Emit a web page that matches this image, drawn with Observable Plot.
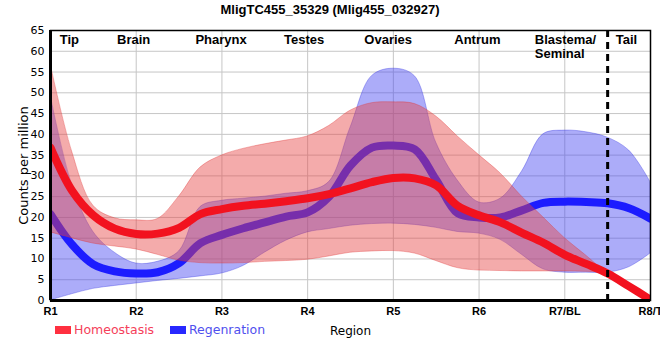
<!DOCTYPE html>
<html><head><meta charset="utf-8">
<script src="https://cdn.jsdelivr.net/npm/d3@7"></script>
<script src="https://cdn.jsdelivr.net/npm/@observablehq/plot@0.6"></script>
<style>
body{margin:0;background:#fff;}
#wrap{position:relative;width:660px;height:360px;overflow:hidden;font-family:"Liberation Sans",Arial,sans-serif;}
#title{height:20px;line-height:20px;text-align:center;font-weight:bold;font-size:13px;color:#000;}
#legend{position:absolute;top:322px;left:55px;font-family:"DejaVu Sans",Verdana,sans-serif;font-size:12.5px;}
.item{position:absolute;top:0;white-space:nowrap;line-height:16px;}
.sw{display:inline-block;width:16px;height:8px;margin-right:3px;vertical-align:middle;position:relative;top:-1px;}
svg g[aria-label="x-axis tick label"] text{font-weight:bold;}
</style></head>
<body>
<div id="wrap">
<div id="title">MligTC455_35329 (Mlig455_032927)</div>
<div id="chart"></div>
<div id="legend"></div>
</div>
<script>
const positions = [0,0.25,0.5,0.75,1,1.25,1.5,1.75,2,2.25,2.5,2.75,3,3.25,3.5,3.75,4,4.25,4.5,4.75,5,5.25,5.5,5.75,6,6.25,6.5,6.75,7];
const regionTicks = ["R1","R2","R3","R4","R5","R6","R7/BL","R8/T"];
const homMean = [36.8,26.5,20.5,17.3,16,16.1,17.5,20.8,22,22.8,23.3,23.9,24.6,25.6,27,28.5,29.5,29.4,27.7,22.8,20.5,18.8,16.3,13.9,11,8.8,6.5,3.4,0.2];
const homLow  = [16.4,15,13.7,13,12.3,11,9.6,9,8.9,9,9.3,9.5,9.8,10.6,11.5,11.8,11.9,11.3,9.5,7.8,7.2,7.1,7,7,7,6.9,6.5,3.2,0];
const homHigh = [57,36,22.8,19.8,19.3,19.6,25,32,34.9,36.5,37.6,38.5,39.5,42,45.7,47.5,47.7,47.3,44.3,39.5,35,30.6,25,20,15,10.8,6.5,3.6,0.4];
const regMean = [20.8,13.5,8.7,7,6.5,6.8,9,13.8,15.8,17.4,18.8,20.2,21.2,25,32.5,36.8,37.3,36.4,29,21,20,20,21.7,23.5,23.8,23.7,23.4,22.2,19.7];
const regLow  = [0,1.5,2.8,3.5,4.1,4.7,5.2,5.8,6.5,8.3,11.5,14.4,16.4,17.2,18,18.4,18.5,18.2,17.5,16.5,16.1,14.6,11,7.5,6.7,6.7,6.7,8,11.3];
const regHigh = [49.5,28,16.5,11.5,8.9,9.3,11.8,22.5,24,24.5,25,25.7,26.3,28.5,41.6,54,55.8,54,38,28.9,23.6,24.5,31,40,40.9,40.5,39.2,36.1,28.5];
const regionNames = ["Tip","Brain","Pharynx","Testes","Ovaries","Antrum","Tail"];
const regionNameX = [0.22,0.97,1.99,2.96,3.94,4.98,6.72];
const blastemaLabel = "Blastema/\nSeminal";
const blastemaX = 5.65;
const tailBoundary = 6.5;
const series = [
  {name:"Homeostasis", swatch:"#ff3040", text:"#f5405a"},
  {name:"Regenration", swatch:"#2828ff", text:"#5050ee"}
];

const data = positions.map((t,i)=>({t, hm:homMean[i], hl:homLow[i], hh:homHigh[i], rm:regMean[i], rl:regLow[i], rh:regHigh[i]}));
const curve = "catmull-rom";

const chart = Plot.plot({
  width: 660,
  height: 320,
  marginLeft: 50,
  marginRight: 10,
  marginTop: 10,
  marginBottom: 40,
  style: {fontFamily: "'DejaVu Sans', Verdana, sans-serif", fontSize: "11px", color: "#000", background: "#fff"},
  x: {domain: [0, 7]},
  y: {domain: [0, 65]},
  marks: [
    Plot.gridY(d3.range(0, 66, 5), {stroke: "#c6c6c6", strokeOpacity: 1}),
    Plot.gridX(d3.range(0, 8), {stroke: "#c6c6c6", strokeOpacity: 1}),
    Plot.areaY(data, {x: "t", y1: "rl", y2: "rh", fill: "#4646f2", fillOpacity: 0.45, stroke: "#3030e0", strokeOpacity: 0.35, strokeWidth: 1, curve, clip: true}),
    Plot.line(data, {x: "t", y: "rm", stroke: "#1c1cff", strokeWidth: 8, curve, clip: true}),
    Plot.areaY(data, {x: "t", y1: "hl", y2: "hh", fill: "#e64545", fillOpacity: 0.45, stroke: "#e03030", strokeOpacity: 0.35, strokeWidth: 1, curve, clip: true}),
    Plot.line(data, {x: "t", y: "hm", stroke: "#f2121f", strokeWidth: 8, curve, clip: true}),
    Plot.ruleX([tailBoundary], {stroke: "#000", strokeWidth: 3, strokeDasharray: "7,5"}),
    Plot.frame({stroke: "#000", strokeWidth: 1.5}),
    Plot.ruleX([0], {stroke: "#000", strokeWidth: 3}),
    Plot.ruleY([0], {stroke: "#000", strokeWidth: 3}),
    Plot.text(regionNames, {x: (d,i)=>regionNameX[i], y: 62.8, text: d=>d, fontWeight: "bold", fontSize: 13, fontFamily: "'Liberation Sans', Arial, sans-serif", fill: "#000"}),
    Plot.text([blastemaLabel], {x: blastemaX, y: 62.8, text: d=>d, textAnchor: "start", lineAnchor: "middle", dy: 7, lineHeight: 1.05, fontWeight: "bold", fontSize: 13, fontFamily: "'Liberation Sans', Arial, sans-serif", fill: "#000"}),
    Plot.axisY({ticks: d3.range(0, 66, 5), tickSize: 0, tickPadding: 6, fontSize: 11, label: "Counts per million", labelAnchor: "center", labelOffset: 32, labelArrow: "none"}),
    Plot.axisX({ticks: d3.range(0, 8), tickFormat: i => regionTicks[i], tickSize: 0, tickPadding: 7, fontSize: 11, fontFamily: "'Liberation Sans', Arial, sans-serif", label: "Region", labelAnchor: "center", labelOffset: 34, labelArrow: "none"})
  ]
});
document.getElementById("chart").appendChild(chart);
chart.querySelectorAll('g[aria-label="y-axis label"] text').forEach(t=>{t.style.fontSize="13px";});
chart.querySelectorAll('g[aria-label="x-axis label"] text').forEach(t=>{t.style.fontSize="12px";t.style.fontFamily="'DejaVu Sans', Verdana, sans-serif";t.style.fontWeight="normal";});

const leg = document.getElementById("legend");
const offsets = [0, 115];
series.forEach((s,i)=>{
  const d = document.createElement("div");
  d.className = "item";
  d.style.left = offsets[i] + "px";
  d.innerHTML = `<span class="sw" style="background:${s.swatch}"></span><span style="color:${s.text}">${s.name}</span>`;
  leg.appendChild(d);
});
</script>
</body></html>
